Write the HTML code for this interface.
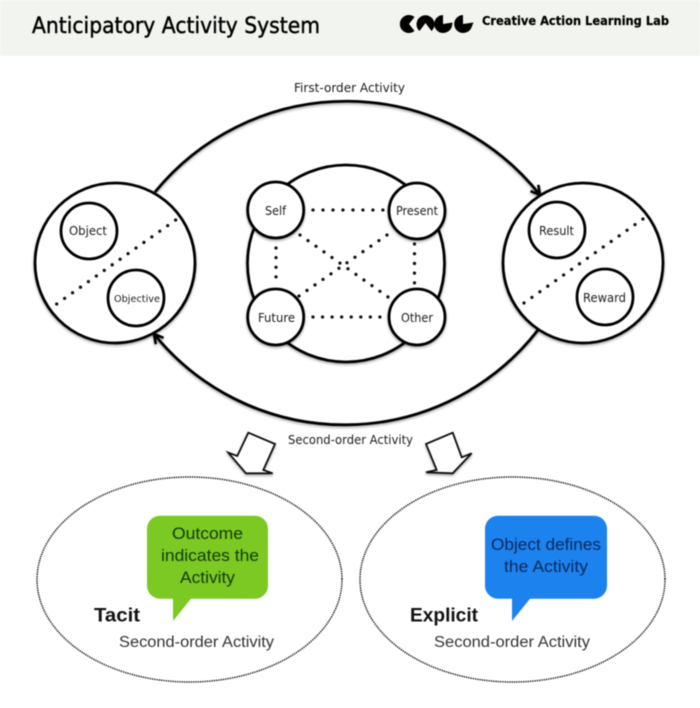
<!DOCTYPE html>
<html><head><meta charset="utf-8"><style>
html,body{margin:0;padding:0;background:#fff;width:700px;height:708px;overflow:hidden}
svg{display:block;filter:blur(.4px)}
text{font-family:"DejaVu Sans","Liberation Sans",sans-serif;fill:#1c1c1c}
.b{font-family:"Liberation Sans","DejaVu Sans",sans-serif}
</style></head><body>
<svg xmlns="http://www.w3.org/2000/svg" width="700" height="708" viewBox="0 0 700 708">
<defs>
<filter id="s" x="-10%" y="-10%" width="120%" height="125%"><feDropShadow dx="0" dy="1.5" stdDeviation="1.2" flood-color="#000" flood-opacity=".35"/></filter>
<marker id="ah" markerWidth="14" markerHeight="14" refX="11" refY="6" orient="auto" markerUnits="userSpaceOnUse"><path d="M2 1L11 6L2 11" fill="none" stroke="#000" stroke-width="2.6"/></marker>
</defs>
<rect width="700" height="56" fill="#f2f5ef"/>
<text x="32" y="33" font-size="22" textLength="288" lengthAdjust="spacingAndGlyphs" stroke="#000" stroke-width=".45" style="fill:#000">Anticipatory Activity System</text>
<g fill="#000">
<path d="M409 24L414.5 17A9 9 0 1 0 414.5 31Z"/>
<path d="M425.5 23L431.5 31A9 9 0 1 0 419.5 31Z"/>
<path d="M443 15A9 9 0 1 0 452 26L452.5 22.5L443 24Z"/>
<path d="M463 15A9 9 0 1 0 472 26L473.5 22.5L463 24Z"/>
</g>
<text x="482" y="25" font-size="12" font-weight="bold" textLength="187" lengthAdjust="spacingAndGlyphs" stroke="#000" stroke-width=".2" style="fill:#000">Creative Action Learning Lab</text>

<text x="294" y="92" font-size="12" textLength="111" lengthAdjust="spacingAndGlyphs">First-order Activity</text>
<text x="288" y="444" font-size="12" textLength="125" lengthAdjust="spacingAndGlyphs">Second-order Activity</text>

<g fill="none" stroke="#000" stroke-width="2.8" filter="url(#s)">
<path d="M155 192A247 247 0 0 1 540 195" marker-end="url(#ah)"/>
<path d="M538 330A245 245 0 0 1 154 334" marker-end="url(#ah)"/>
</g>

<g fill="#fff" stroke="#000" stroke-width="2.8" filter="url(#s)">
<circle cx="115" cy="263" r="80"/>
<circle cx="583" cy="263" r="80"/>
<circle cx="346" cy="263.5" r="98.5"/>
<circle cx="89" cy="231" r="28"/>
<circle cx="136" cy="298" r="28"/>
<circle cx="557" cy="230" r="28"/>
<circle cx="605" cy="297" r="28"/>
</g>

<g fill="none" stroke="#111" stroke-width="3.3" stroke-linecap="round" stroke-dasharray="0 1">
<path pathLength="15.01" d="M56.7 304L175.7 220"/>
<path pathLength="15.01" d="M524 303L643 219"/>
<path pathLength="7.01" d="M313 210L383 210"/>
<path pathLength="7.01" d="M313 317L380 317"/>
<path pathLength="3.01" d="M276 248L276 277"/>
<path pathLength="4.01" d="M414.5 244L414.5 283"/>
<path pathLength="11.01" d="M300 235L388 297"/>
<path pathLength="11.01" d="M299 296L387 235"/>
</g>

<g fill="#fff" stroke="#000" stroke-width="2.8" filter="url(#s)">
<circle cx="275.7" cy="210" r="28"/>
<circle cx="417" cy="211" r="28"/>
<circle cx="275.7" cy="317" r="28"/>
<circle cx="417" cy="317" r="28"/>
</g>

<g font-size="12">
<text x="69" y="235" textLength="38" lengthAdjust="spacingAndGlyphs">Object</text>
<text x="114" y="302" font-size="10" textLength="46" lengthAdjust="spacingAndGlyphs">Objective</text>
<text x="265" y="215" textLength="21" lengthAdjust="spacingAndGlyphs">Self</text>
<text x="396" y="215" textLength="42" lengthAdjust="spacingAndGlyphs">Present</text>
<text x="258" y="322" textLength="37" lengthAdjust="spacingAndGlyphs">Future</text>
<text x="401" y="322" textLength="32" lengthAdjust="spacingAndGlyphs">Other</text>
<text x="539" y="235" textLength="35" lengthAdjust="spacingAndGlyphs">Result</text>
<text x="583" y="302" textLength="43" lengthAdjust="spacingAndGlyphs">Reward</text>
</g>

<g fill="#fff" stroke="#111" stroke-width="1.8" stroke-linejoin="miter" filter="url(#s)">
<path d="M248.3 432.7L275 444L263.3 470L272.7 473.3L246 473.3L228.3 452.7L237.3 456Z"/>
<path d="M452.7 432.7L426 444L436.7 470L426 472.3L452.7 473.3L471.7 453.3L461.7 457.3Z"/>
</g>

<g fill="none" stroke="#222" stroke-width="1.7" stroke-linecap="round" stroke-dasharray="0 2.3">
<ellipse cx="189.5" cy="579.5" rx="152.5" ry="102.5"/>
<ellipse cx="512.5" cy="579.5" rx="152.5" ry="102.5"/>
</g>

<path d="M160 515.7H255a13 13 0 0 1 13 13V585.7a13 13 0 0 1 -13 13H191L173 621V598.7H160a13 13 0 0 1 -13 -13V528.7a13 13 0 0 1 13 -13Z" fill="#7bc922"/>
<path d="M498 515.7H594a13 13 0 0 1 13 13V585.7a13 13 0 0 1 -13 13H530L512 621V598.7H498a13 13 0 0 1 -13 -13V528.7a13 13 0 0 1 13 -13Z" fill="#1c82ee"/>

<g font-size="16.5" class="b">
<text class="b" x="172" y="539" textLength="71" lengthAdjust="spacingAndGlyphs" style="fill:#123a0a">Outcome</text>
<text class="b" x="161" y="561" textLength="98" lengthAdjust="spacingAndGlyphs" style="fill:#123a0a">indicates the</text>
<text class="b" x="180" y="583" textLength="55" lengthAdjust="spacingAndGlyphs" style="fill:#123a0a">Activity</text>
<text class="b" x="491" y="550" textLength="110" lengthAdjust="spacingAndGlyphs" style="fill:#0c2a5c">Object defines</text>
<text class="b" x="504" y="572" textLength="84" lengthAdjust="spacingAndGlyphs" style="fill:#0c2a5c">the Activity</text>
</g>
<text class="b" x="94" y="621.5" font-size="19" font-weight="bold" textLength="46" lengthAdjust="spacingAndGlyphs" style="fill:#111">Tacit</text>
<text class="b" x="410" y="621.5" font-size="19" font-weight="bold" textLength="68" lengthAdjust="spacingAndGlyphs" style="fill:#111">Explicit</text>
<text class="b" x="119" y="647" font-size="15.5" textLength="155" lengthAdjust="spacingAndGlyphs" style="fill:#333">Second-order Activity</text>
<text class="b" x="434" y="647" font-size="15.5" textLength="156" lengthAdjust="spacingAndGlyphs" style="fill:#333">Second-order Activity</text>
</svg>
</body></html>
